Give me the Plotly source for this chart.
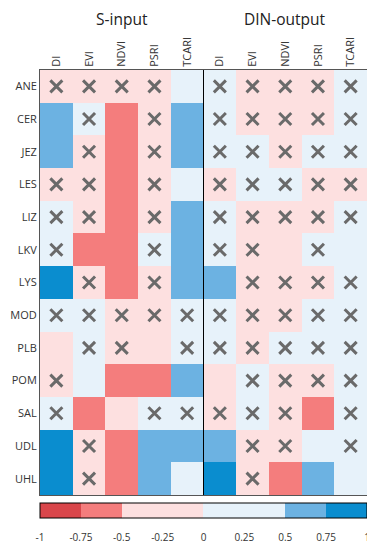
import plotly.graph_objects as go

sites = ["ANE", "CER", "JEZ", "LES", "LIZ", "LKV", "LYS", "MOD", "PLB", "POM", "SAL", "UDL", "UHL"]
indices = ["DI", "EVI", "NDVI", "PSRI", "TCARI"]
groups = ["S-input", "DIN-output"]

s_input = [
    [-0.25, -0.25, -0.25, -0.25, 0.25],
    [0.6, 0.25, -0.6, -0.25, 0.6],
    [0.6, -0.25, -0.6, -0.25, 0.6],
    [-0.25, -0.25, -0.6, -0.25, 0.25],
    [0.25, -0.25, -0.6, -0.25, 0.6],
    [0.25, -0.6, -0.6, 0.25, 0.6],
    [0.9, -0.25, -0.6, -0.25, 0.6],
    [0.25, 0.25, -0.25, -0.25, 0.25],
    [-0.25, 0.25, -0.25, -0.25, 0.25],
    [-0.25, 0.25, -0.6, -0.6, 0.6],
    [0.25, -0.6, -0.25, 0.25, 0.25],
    [0.9, -0.25, -0.6, 0.6, 0.6],
    [0.9, -0.25, -0.6, 0.6, 0.25],
]
din_output = [
    [0.25, -0.25, -0.25, -0.25, 0.25],
    [0.25, -0.25, -0.25, -0.25, 0.25],
    [0.25, 0.25, -0.25, 0.25, 0.25],
    [-0.25, 0.25, 0.25, -0.25, -0.25],
    [0.25, -0.25, -0.25, -0.25, 0.25],
    [0.25, -0.25, -0.25, 0.25, 0.25],
    [0.6, -0.25, -0.25, -0.25, 0.25],
    [0.25, -0.25, -0.25, 0.25, 0.25],
    [0.25, -0.25, 0.25, 0.25, 0.25],
    [-0.25, 0.25, -0.25, -0.25, 0.25],
    [-0.25, 0.25, -0.25, -0.6, 0.25],
    [0.6, -0.25, -0.25, 0.25, 0.25],
    [0.9, -0.25, -0.6, 0.6, 0.25],
]
# 1 = not significant (crossed)
s_input_ns = [
    [1, 1, 1, 1, 0],
    [0, 1, 0, 1, 0],
    [0, 1, 0, 1, 0],
    [1, 1, 0, 1, 0],
    [1, 1, 0, 1, 0],
    [1, 0, 0, 1, 0],
    [0, 1, 0, 1, 0],
    [1, 1, 1, 1, 1],
    [0, 1, 1, 0, 1],
    [1, 0, 0, 0, 0],
    [1, 0, 0, 1, 1],
    [0, 1, 0, 0, 0],
    [0, 1, 0, 0, 0],
]
din_output_ns = [
    [1, 1, 1, 1, 1],
    [1, 1, 1, 1, 1],
    [1, 1, 1, 1, 1],
    [1, 1, 1, 1, 1],
    [1, 1, 1, 1, 1],
    [1, 1, 0, 1, 0],
    [0, 1, 1, 1, 1],
    [1, 1, 1, 1, 1],
    [1, 1, 1, 1, 1],
    [0, 1, 1, 1, 1],
    [1, 1, 1, 0, 1],
    [0, 1, 1, 0, 1],
    [0, 1, 0, 0, 0],
]
cbar_ticks = [-1, -0.75, -0.5, -0.25, 0, 0.25, 0.5, 0.75, 1]
cbar_labels = ["-1", "-0.75", "-0.5", "-0.25", "0", "0.25", "0.5", "0.75", "1"]

DR, R, P, L, M, D = "#d9464b", "#f47d7d", "#fde0e0", "#e7f2fa", "#6cb2e2", "#0a8dcf"
colorscale = [[0, DR], [0.125, DR], [0.125, R], [0.25, R], [0.25, P], [0.5, P],
              [0.5, L], [0.75, L], [0.75, M], [0.875, M], [0.875, D], [1, D]]

z = [a + b for a, b in zip(s_input, din_output)]
ns = [a + b for a, b in zip(s_input_ns, din_output_ns)]
ncol = len(indices) * len(groups)
xs = list(range(ncol))
ys = list(range(len(sites)))

mx, my = [], []
for i, row in enumerate(ns):
    for j, v in enumerate(row):
        if v:
            mx.append(j)
            my.append(i)

font = "Open Sans"
fig = go.Figure()
fig.add_trace(go.Heatmap(
    z=z, x=xs, y=ys, zmin=-1, zmax=1, colorscale=colorscale,
    colorbar=dict(orientation="h", x=0.5, xanchor="center", y=-0.019, yanchor="top",
                  len=327, lenmode="pixels", thickness=15, thicknessmode="pixels",
                  xpad=0, ypad=0,
                  outlinecolor="black", outlinewidth=1,
                  tickvals=cbar_ticks, ticktext=cbar_labels, ticks="outside",
                  ticklen=11, tickcolor="rgba(0,0,0,0)",
                  tickfont=dict(size=10, color="#333", family=font)),
    hoverinfo="skip",
))
fig.add_trace(go.Scatter(
    x=mx, y=my, mode="markers",
    marker=dict(symbol="x-thin", size=12, line=dict(width=3, color="#6a6a6a")),
    hoverinfo="skip", showlegend=False,
))
fig.add_shape(type="line", x0=4.5, x1=4.5, y0=0, y1=1, yref="paper",
              line=dict(color="black", width=1))
for k, g in enumerate(groups):
    fig.add_annotation(x=2 + 5 * k, y=1.119, xref="x", yref="paper", text=g,
                       showarrow=False, yanchor="middle",
                       font=dict(size=15.5, color="#222", family=font))

fig.update_xaxes(tickvals=xs, ticktext=indices * len(groups), side="top", tickangle=-90,
                 range=[-0.5, ncol - 0.5], showline=True, mirror=True, linecolor="#555",
                 linewidth=1, showgrid=False, zeroline=False, ticks="", automargin=False,
                 tickfont=dict(size=11, color="#333", family=font))
fig.update_yaxes(tickvals=ys, ticktext=sites, range=[len(sites) - 0.5, -0.5],
                 showline=True, mirror=True, linecolor="#555", linewidth=1,
                 showgrid=False, zeroline=False, ticks="", automargin=False,
                 tickfont=dict(size=11, color="#333", family=font))
# page has an 8px body margin, so the figure is sized to fill the rest of the window
fig.update_layout(width=367, height=542,
                  margin=dict(l=32, r=8, t=62, b=55, autoexpand=False),
                  plot_bgcolor="white", paper_bgcolor="white",
                  font=dict(family=font), showlegend=False)
fig.write_html("out.html")
